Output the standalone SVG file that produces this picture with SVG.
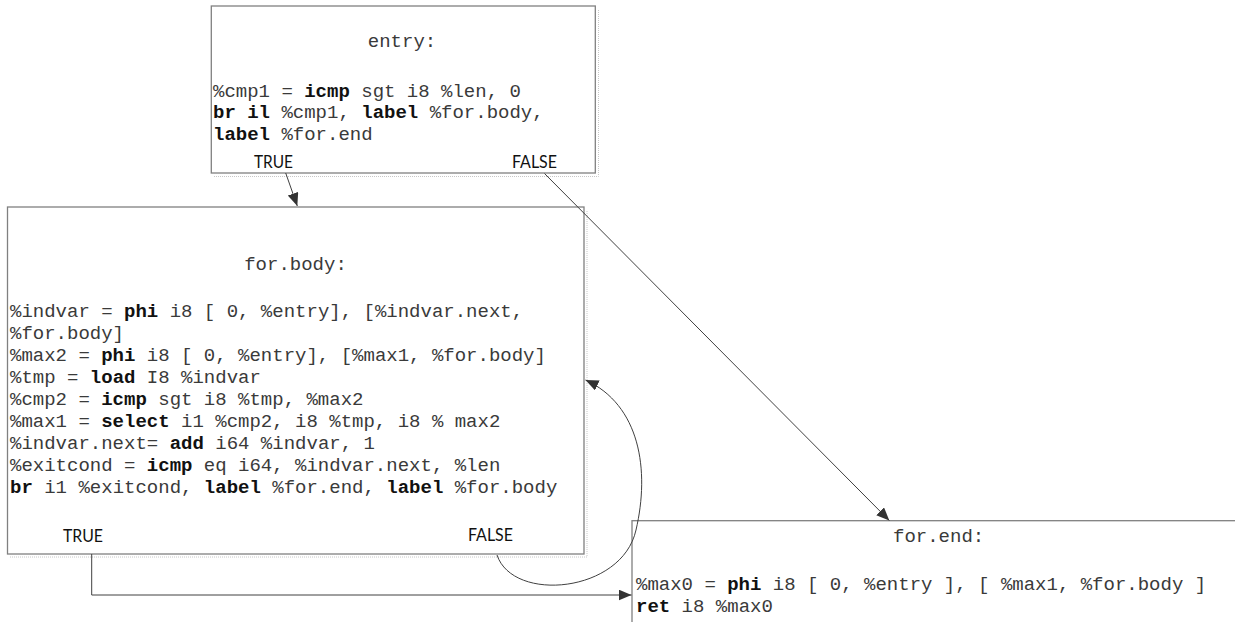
<svg xmlns="http://www.w3.org/2000/svg" width="1235" height="622" viewBox="0 0 1235 622">
<defs>
<style>
.box{fill:#ffffff;stroke:#808080;stroke-width:1.3}
.shadow{fill:none;stroke:#c8c8c8;stroke-width:1;stroke-dasharray:1 1}
.code{font-family:"Liberation Mono","Courier New",monospace;font-size:19px;fill:#3a3a3a}
.code .b{font-weight:bold;fill:#111}
.lbl{font-family:Lato,"Open Sans",sans-serif;font-size:17px;fill:#111}
.conn{fill:none;stroke:#404040;stroke-width:1}
</style>
<marker id="arrow" markerUnits="userSpaceOnUse" markerWidth="14" markerHeight="12" refX="13" refY="5.5" orient="auto">
<path d="M0,0 L13,5.5 L0,11 Z" fill="#333333"/>
</marker>
</defs>
<rect width="1235" height="622" fill="#ffffff"/>

<g id="node-entry">
<polyline class="shadow" points="598.5,10 598.5,176.5 214,176.5"/>
<rect class="box" x="211.3" y="6" width="384" height="167"/>
<text class="code" x="402" y="46.5" text-anchor="middle">entry:</text>
<text class="code" x="213" y="96.5">%cmp1 = <tspan class="b">icmp</tspan> sgt i8 %len, 0</text>
<text class="code" x="213" y="118.3"><tspan class="b">br il</tspan> %cmp1, <tspan class="b">label</tspan> %for.body,</text>
<text class="code" x="213" y="140"><tspan class="b">label</tspan> %for.end</text>
<text class="lbl" x="254" y="168" textLength="39" lengthAdjust="spacingAndGlyphs">TRUE</text>
<text class="lbl" x="512" y="168" textLength="45" lengthAdjust="spacingAndGlyphs">FALSE</text>
</g>

<g id="node-for-body">
<polyline class="shadow" points="587,211 587,557 10,557"/>
<rect class="box" x="7.5" y="207" width="576.5" height="347"/>
<text class="code" x="295.5" y="270" text-anchor="middle">for.body:</text>
<text class="code" x="10" y="316.5">%indvar = <tspan class="b">phi</tspan> i8 [ 0, %entry], [%indvar.next,</text>
<text class="code" x="10" y="338.5">%for.body]</text>
<text class="code" x="10" y="360.5">%max2 = <tspan class="b">phi</tspan> i8 [ 0, %entry], [%max1, %for.body]</text>
<text class="code" x="10" y="382.5">%tmp = <tspan class="b">load</tspan> I8 %indvar</text>
<text class="code" x="10" y="404.5">%cmp2 = <tspan class="b">icmp</tspan> sgt i8 %tmp, %max2</text>
<text class="code" x="10" y="426.5">%max1 = <tspan class="b">select</tspan> i1 %cmp2, i8 %tmp, i8 % max2</text>
<text class="code" x="10" y="448.5">%indvar.next= <tspan class="b">add</tspan> i64 %indvar, 1</text>
<text class="code" x="10" y="470.5">%exitcond = <tspan class="b">icmp</tspan> eq i64, %indvar.next, %len</text>
<text class="code" x="10" y="492.5"><tspan class="b">br</tspan> i1 %exitcond, <tspan class="b">label</tspan> %for.end, <tspan class="b">label</tspan> %for.body</text>
<text class="lbl" x="63" y="541.5" textLength="40" lengthAdjust="spacingAndGlyphs">TRUE</text>
<text class="lbl" x="468" y="541" textLength="45" lengthAdjust="spacingAndGlyphs">FALSE</text>
</g>

<g id="node-for-end">
<rect class="box" x="632" y="520.7" width="700" height="200"/>
<text class="code" x="893" y="541.7">for.end:</text>
<text class="code" x="636" y="590">%max0 = <tspan class="b">phi</tspan> i8 [ 0, %entry ], [ %max1, %for.body ]</text>
<text class="code" x="636" y="611.7"><tspan class="b">ret</tspan> i8 %max0</text>
</g>

<g id="connectors">
<path class="conn" d="M285.7,173 L297.3,206" marker-end="url(#arrow)"/>
<path class="conn" d="M544.5,173.5 L889.3,520.5" marker-end="url(#arrow)"/>
<path class="conn" d="M497,555 C513,603 622,593 636,530 C650,470 640,405 585.5,380" marker-end="url(#arrow)"/>
<path class="conn" d="M91.7,554 L91.7,595 L631.5,595" marker-end="url(#arrow)"/>
</g>
</svg>
